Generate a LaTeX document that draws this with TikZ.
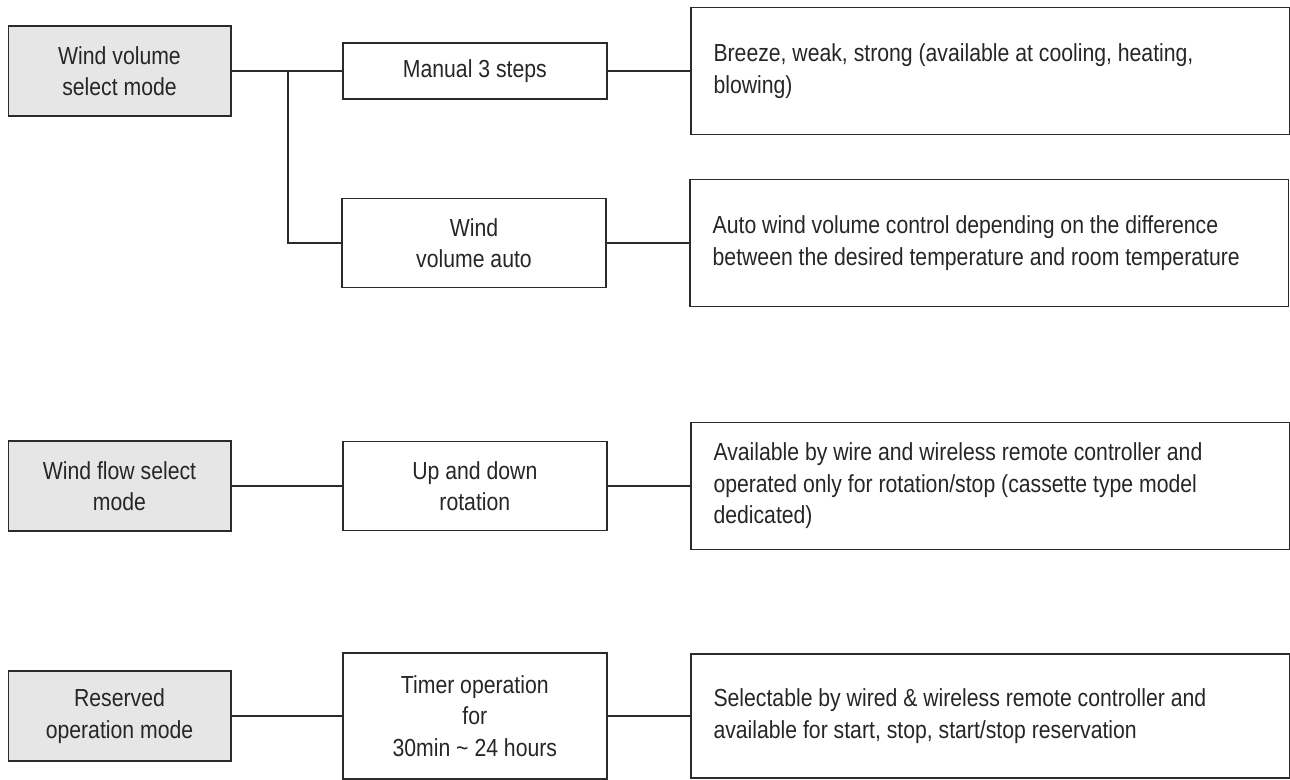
\documentclass[tikz,border=0pt]{standalone}
\usepackage{fontspec}
\setmainfont{Liberation Sans}[FakeStretch=0.86]
\usepackage{tikz}
\usetikzlibrary{positioning}
\definecolor{modegray}{HTML}{E6E6E6}
\definecolor{edgegray}{HTML}{2B2B2B}

\begin{document}
\begin{tikzpicture}[
    x=0.75pt, y=-0.75pt,
    node distance=83pt,
    every node/.style={font=\fontsize{18.5}{23.6}\selectfont, text=black!85},
    box/.style={rectangle, draw=edgegray, line width=1pt, align=center, inner sep=2pt},
    modebox/.style={box, fill=modegray, minimum width=167pt, minimum height=67.5pt},
    funcbox/.style={box, minimum width=198pt, minimum height=66.75pt},
    descbox/.style={box, align=flush left, text width=415pt, inner xsep=17pt, minimum height=95.25pt},
    link/.style={draw=edgegray, line width=0.8pt}
]
    \useasboundingbox (0,0) rectangle (1290,780);

    % Wind volume
    \node[modebox] (volmode) at (119.5,71) {Wind volume\\select mode};
    \node[funcbox, minimum height=42pt, right=83pt of volmode] (manual) {Manual 3 steps};
    \node[descbox, right=62pt of manual] (manualdesc) {Breeze, weak, strong (available at cooling, heating,\\blowing)};
    \node[funcbox] (auto) at (474,243) {Wind\\volume auto};
    \node[descbox, right=62pt of auto] (autodesc) {Auto wind volume control depending on the difference\\between the desired temperature and room temperature};

    % Wind flow
    \node[modebox] (flowmode) at (119.5,486) {Wind flow select\\mode};
    \node[funcbox, right=83pt of flowmode] (updown) {Up and down\\rotation};
    \node[descbox, right=62pt of updown] (updowndesc) {Available by wire and wireless remote controller and\\operated only for rotation/stop (cassette type model\\dedicated)};

    % Reservation
    \node[modebox] (resmode) at (119.5,716) {Reserved\\operation mode};
    \node[funcbox, minimum height=94.5pt, right=83pt of resmode] (timer) {Timer operation\\for\\30min \textasciitilde{} 24 hours};
    \node[descbox, minimum height=93pt, right=62pt of timer] (timerdesc) {Selectable by wired \& wireless remote controller and\\available for start, stop, start/stop reservation};

    % Connections
    \coordinate (split) at (288,71);
    \draw[link] (volmode) -- (split) -- (manual);
    \draw[link] (split) |- (auto);
    \draw[link] (manual) -- (manualdesc);
    \draw[link] (auto) -- (autodesc);
    \draw[link] (flowmode) -- (updown);
    \draw[link] (updown) -- (updowndesc);
    \draw[link] (resmode) -- (timer);
    \draw[link] (timer) -- (timerdesc);
\end{tikzpicture}
\end{document}
